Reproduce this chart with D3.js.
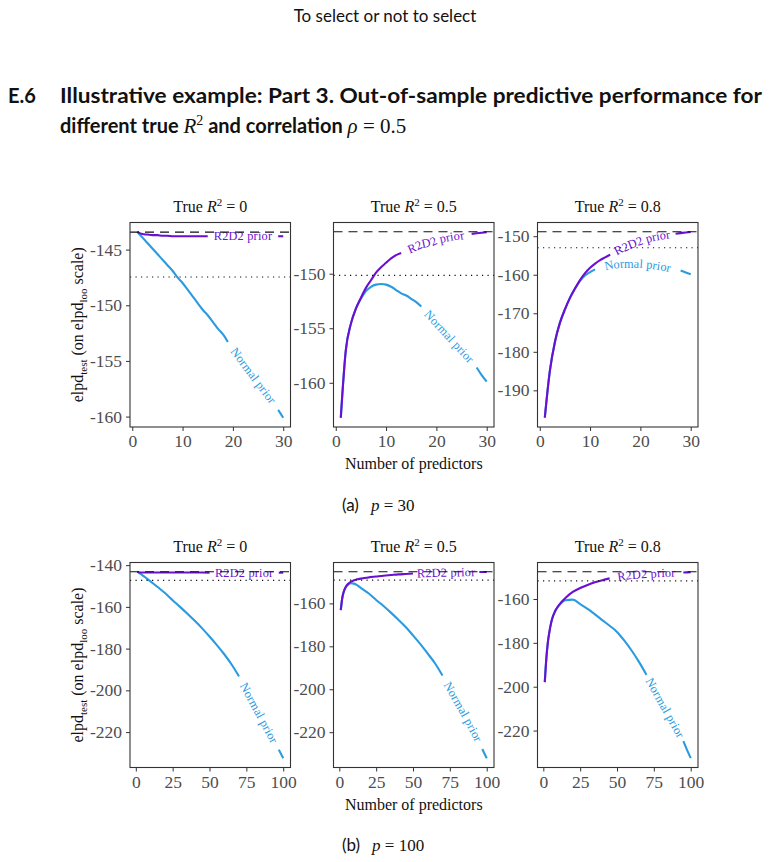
<!DOCTYPE html>
<html>
<head>
<meta charset="utf-8">
<script src="https://cdn.jsdelivr.net/npm/d3@7"></script>
<style>
  body { margin: 0; background: #fff; }
</style>
</head>
<body>
<svg id="chart" width="771" height="862"></svg>
<script>
// ---- data ----
const trueR2 = ['0', '0.5', '0.8'];

const sizes30 = [1, 2, 3, 4, 5, 6, 7, 8, 9, 10, 11, 12, 13, 14, 15, 16, 17, 18, 19, 20, 21, 22, 23, 24, 25, 26, 27, 28, 29, 30];
const xTicks30 = [0, 10, 20, 30];

const normal30_r0 = [-143.4, -143.9, -144.4, -144.9, -145.4, -145.9, -146.4, -146.9, -147.5, -148.0, -148.6, -149.2, -149.8, -150.4, -150.9, -151.5, -152.1, -152.6, -153.3, -153.9, -154.5, -155.1, -155.7, -156.3, -156.9, -157.5, -158.1, -158.7, -159.4, -160.1];
const r2d2_30_r0 = [-143.4, -143.6, -143.65, -143.7, -143.7, -143.75, -143.75, -143.8, -143.8, -143.8, -143.8, -143.8, -143.8, -143.8, -143.8, -143.8, -143.8, -143.8, -143.8, -143.8, -143.8, -143.8, -143.8, -143.8, -143.8, -143.8, -143.8, -143.8, -143.8, -143.8];
const normal30_r5 = [-163.2, -157.0, -154.6, -153.2, -152.3, -151.6, -151.2, -151.0, -150.95, -151.0, -151.2, -151.5, -151.8, -152.0, -152.3, -152.6, -153.0, -153.5, -154.0, -154.5, -155.0, -155.5, -156.0, -156.5, -157.0, -157.5, -158.0, -158.6, -159.3, -159.9];
const r2d2_30_r5 = [-163.2, -157.0, -154.6, -153.2, -152.2, -151.3, -150.6, -149.9, -149.4, -149.0, -148.6, -148.3, -148.1, -147.9, -147.7, -147.5, -147.3, -147.2, -147.1, -146.9, -146.8, -146.7, -146.6, -146.55, -146.5, -146.4, -146.35, -146.3, -146.25, -146.2];
const normal30_r8 = [-197.1, -185.0, -177.5, -172.5, -169.0, -166.0, -163.6, -161.6, -160.2, -159.3, -158.6, -158.1, -157.8, -157.5, -157.3, -157.2, -157.1, -157.1, -157.1, -157.2, -157.3, -157.4, -157.6, -157.8, -158.0, -158.3, -158.6, -158.9, -159.4, -159.9];
const r2d2_30_r8 = [-197.1, -185.0, -177.5, -172.5, -169.0, -166.0, -163.6, -161.4, -159.6, -158.2, -157.1, -156.2, -155.5, -154.8, -154.1, -153.4, -152.8, -152.2, -151.7, -151.2, -150.8, -150.4, -150.1, -149.9, -149.7, -149.5, -149.35, -149.2, -149.05, -148.9];
const refModel30 = [-143.43, -146.16, -148.86];   // dashed
const refLoo30 = [-147.46, -150.15, -153.0];      // dotted
const yTicks30 = [[-160, -155, -150, -145], [-160, -155, -150], [-190, -180, -170, -160, -150]];

const sizes100 = [1, 2, 3, 4, 5, 6, 8, 10, 12, 15, 20, 25, 30, 35, 40, 45, 50, 55, 60, 65, 70, 75, 80, 85, 90, 95, 97, 100];
const xTicks100 = [0, 25, 50, 75, 100];

const normal100_r0 = [-143.2, -143.6, -144.1, -144.6, -145.1, -145.6, -146.7, -147.8, -148.9, -150.6, -153.5, -156.8, -160.0, -163.3, -166.7, -170.3, -174.2, -178.3, -182.7, -187.6, -193.3, -199.8, -206.3, -212.8, -219.3, -225.8, -228.4, -232.5];
const r2d2_100_r0 = [-143.2, -143.4, -143.5, -143.5, -143.5, -143.5, -143.5, -143.5, -143.5, -143.5, -143.5, -143.5, -143.5, -143.5, -143.5, -143.5, -143.6, -143.6, -143.6, -143.6, -143.6, -143.6, -143.6, -143.6, -143.6, -143.6, -143.6, -143.6];
const normal100_r5 = [-163.1, -157.5, -154.6, -153.0, -152.0, -151.3, -150.6, -150.8, -151.5, -153.0, -155.4, -158.4, -161.2, -164.3, -167.6, -171.0, -174.9, -179.0, -183.4, -188.0, -193.6, -199.5, -205.5, -211.5, -217.8, -224.5, -227.8, -232.1];
const r2d2_100_r5 = [-163.1, -157.5, -154.6, -152.8, -151.6, -150.9, -149.9, -149.2, -148.8, -148.4, -147.9, -147.5, -147.1, -146.8, -146.5, -146.3, -146.1, -146.0, -145.9, -145.8, -145.7, -145.65, -145.6, -145.5, -145.45, -145.4, -145.4, -145.35];
const normal100_r8 = [-197.9, -187.5, -180.2, -175.5, -171.8, -169.0, -165.6, -163.5, -161.9, -160.6, -160.3, -162.3, -164.5, -167.0, -169.6, -172.2, -175.0, -179.0, -183.6, -188.8, -194.6, -200.6, -206.6, -212.5, -218.6, -224.8, -228.0, -232.6];
const r2d2_100_r8 = [-197.9, -187.5, -180.2, -175.5, -171.8, -169.0, -165.5, -163.3, -161.6, -159.5, -156.8, -155.0, -153.6, -152.4, -151.4, -150.6, -150.0, -149.5, -149.1, -148.8, -148.6, -148.4, -148.2, -148.1, -148.0, -147.9, -147.85, -147.8];
const refModel100 = [-143.2, -145.3, -147.6];
const refLoo100 = [-147.3, -149.2, -151.7];
const yTicks100 = [[-220, -200, -180, -160, -140], [-220, -200, -180, -160], [-220, -200, -180, -160]];

// ---- layout / style ----
const serif = '"Liberation Serif", "DejaVu Serif", serif';
const sans = 'Lato, "Open Sans", sans-serif';
const purple = '#6b0fd2';
const blue = '#2a9be0';
const panelLeft = [130, 333.5, 537.5];
const panelW = 160.5;

const rows = [
  {
    top: 222.5, h: 204.5, sizes: sizes30, xTicks: xTicks30, yTicks: yTicks30,
    normal: [normal30_r0, normal30_r5, normal30_r8],
    r2d2: [r2d2_30_r0, r2d2_30_r5, r2d2_30_r8],
    ref: refModel30, loo: refLoo30,
    // where the curve labels sit (x range of the gap)
    normalGap: [[19, 29], [17, 28], [11, 28]],
    r2d2Gap: [[15, 29], [13, 27], [14, 27]],
    caption: { tag: '(a)', p: '30', y: 511 },
  },
  {
    top: 562.5, h: 205, sizes: sizes100, xTicks: xTicks100, yTicks: yTicks100,
    normal: [normal100_r0, normal100_r5, normal100_r8],
    r2d2: [r2d2_100_r0, r2d2_100_r5, r2d2_100_r8],
    ref: refModel100, loo: refLoo100,
    normalGap: [[70, 97], [70, 97], [70, 95]],
    r2d2Gap: [[50, 97], [50, 95], [45, 95]],
    caption: { tag: '(b)', p: '100', y: 851 },
  },
];

const svg = d3.select('#chart');

// page header + section title
svg.append('text')
  .attr('x', 385).attr('y', 22)
  .attr('text-anchor', 'middle')
  .style('font-family', sans).style('font-size', '17px').style('fill', '#111')
  .text('To select or not to select');

svg.append('text')
  .attr('x', 8).attr('y', 103)
  .style('font-family', sans).style('font-size', '20px').style('font-weight', 700).style('fill', '#111')
  .text('E.6');
svg.append('text')
  .attr('x', 60).attr('y', 103)
  .attr('textLength', 702).attr('lengthAdjust', 'spacingAndGlyphs')
  .style('font-family', sans).style('font-size', '20px').style('font-weight', 700).style('fill', '#111')
  .text('Illustrative example: Part 3. Out-of-sample predictive performance for');

const t2 = svg.append('text')
  .attr('x', 60).attr('y', 133)
  .style('font-family', sans).style('font-size', '20px').style('font-weight', 700).style('fill', '#111');
t2.append('tspan').text('different true ');
t2.append('tspan').style('font-family', serif).style('font-style', 'italic').style('font-weight', 400).style('font-size', '21px').text('R');
t2.append('tspan').attr('dy', -8).style('font-family', serif).style('font-weight', 400).style('font-size', '14px').text('2');
t2.append('tspan').attr('dy', 8).text(' and correlation ');
t2.append('tspan').style('font-family', serif).style('font-style', 'italic').style('font-weight', 400).style('font-size', '21px').text('ρ');
t2.append('tspan').style('font-family', serif).style('font-weight', 400).style('font-size', '21px').text(' = 0.5');

const expand = (e) => {
  const pad = (e[1] - e[0]) * 0.05;
  return [e[0] - pad, e[1] + pad];
};

const line = (x, y) => d3.line()
  .x(d => x(d.n))
  .y(d => y(d.v))
  .curve(d3.curveMonotoneX);

let pathId = 0;

function drawSeries(g, pts, x, y, color, label, gap) {
  const lineGen = line(x, y);
  const before = pts.filter(d => d.n <= gap[0]);
  const after = pts.filter(d => d.n >= gap[1]);
  const mid = pts.filter(d => d.n >= gap[0] && d.n <= gap[1]);

  for (const seg of [before, after]) {
    if (seg.length < 2) continue;
    g.append('path')
      .attr('d', lineGen(seg))
      .attr('fill', 'none')
      .attr('stroke', color)
      .attr('stroke-width', 2.1)
      .attr('stroke-linecap', 'butt');
  }

  const id = 'lab' + (pathId++);
  g.append('path')
    .attr('id', id)
    .attr('d', lineGen(mid))
    .attr('fill', 'none')
    .attr('stroke', 'none');

  g.append('text')
    .attr('dominant-baseline', 'central')
    .style('font-family', serif).style('font-size', '12.3px').style('letter-spacing', '0.2px').style('fill', color)
    .append('textPath')
    .attr('href', '#' + id)
    .attr('startOffset', '50%')
    .attr('text-anchor', 'middle')
    .text(label);
}

rows.forEach((row) => {
  trueR2.forEach((r2, i) => {
    const left = panelLeft[i];
    const g = svg.append('g');

    const normalPts = row.sizes.map((n, k) => ({ n, v: row.normal[i][k] }));
    const r2d2Pts = row.sizes.map((n, k) => ({ n, v: row.r2d2[i][k] }));
    const allVals = row.normal[i].concat(row.r2d2[i], [row.ref[i], row.loo[i]]);

    const x = d3.scaleLinear()
      .domain(expand(d3.extent(row.sizes)))
      .range([left, left + panelW]);
    const y = d3.scaleLinear()
      .domain(expand(d3.extent(allVals)))
      .range([row.top + row.h, row.top]);

    // panel title
    const tt = g.append('text')
      .attr('x', left + panelW / 2).attr('y', row.top - 11)
      .attr('text-anchor', 'middle')
      .style('font-family', serif).style('font-size', '16px').style('fill', '#111');
    tt.append('tspan').text('True ');
    tt.append('tspan').style('font-style', 'italic').text('R');
    tt.append('tspan').attr('dy', -6).style('font-size', '11px').text('2');
    tt.append('tspan').attr('dy', 6).text(' = ' + r2);

    // series
    drawSeries(g, normalPts, x, y, blue, 'Normal prior', row.normalGap[i]);
    drawSeries(g, r2d2Pts, x, y, purple, 'R2D2 prior', row.r2d2Gap[i]);

    // reference lines
    g.append('line')
      .attr('x1', left).attr('x2', left + panelW)
      .attr('y1', y(row.ref[i])).attr('y2', y(row.ref[i]))
      .attr('stroke', '#111').attr('stroke-width', 1.1)
      .attr('stroke-dasharray', '9,6');
    g.append('line')
      .attr('x1', left).attr('x2', left + panelW)
      .attr('y1', y(row.loo[i])).attr('y2', y(row.loo[i]))
      .attr('stroke', '#111').attr('stroke-width', 1.2)
      .attr('stroke-dasharray', '1.2,4.3');

    // axes
    const ax = g.append('g')
      .attr('transform', `translate(0,${row.top + row.h})`)
      .call(d3.axisBottom(x).tickValues(row.xTicks).tickSize(4).tickPadding(4).tickFormat(d => String(d)));
    const ay = g.append('g')
      .attr('transform', `translate(${left},0)`)
      .call(d3.axisLeft(y).tickValues(row.yTicks[i]).tickSize(4).tickPadding(4).tickFormat(d => String(d)));
    for (const a of [ax, ay]) {
      a.select('.domain').remove();
      a.selectAll('line').attr('stroke', '#333');
      a.selectAll('text')
        .style('font-family', serif).style('font-size', '17.5px').style('fill', '#4d4d4d');
    }

    // panel border
    g.append('rect')
      .attr('x', left).attr('y', row.top)
      .attr('width', panelW).attr('height', row.h)
      .attr('fill', 'none').attr('stroke', '#333').attr('stroke-width', 1.1);
  });

  const midY = row.top + row.h / 2;

  // y axis title
  const yl = svg.append('text')
    .attr('transform', `translate(83,${midY}) rotate(-90)`)
    .attr('text-anchor', 'middle')
    .style('font-family', serif).style('font-size', '16px').style('fill', '#111');
  yl.append('tspan').text('elpd');
  yl.append('tspan').attr('dy', 4).style('font-size', '11px').text('test');
  yl.append('tspan').attr('dy', -4).text(' (on elpd');
  yl.append('tspan').attr('dy', 4).style('font-size', '11px').text('loo');
  yl.append('tspan').attr('dy', -4).text(' scale)');

  // x axis title
  svg.append('text')
    .attr('x', panelLeft[1] + panelW / 2).attr('y', row.top + row.h + 42)
    .attr('text-anchor', 'middle')
    .style('font-family', serif).style('font-size', '16px').style('fill', '#111')
    .text('Number of predictors');

  // sub-figure caption
  const cap = svg.append('text')
    .attr('x', 342).attr('y', row.caption.y)
    .style('font-size', '17px').style('fill', '#111');
  cap.append('tspan').style('font-family', sans).text(row.caption.tag);
  cap.append('tspan').attr('dx', 12).style('font-family', serif).style('font-style', 'italic').text('p');
  cap.append('tspan').style('font-family', serif).text(' = ' + row.caption.p);
});
</script>
</body>
</html>
